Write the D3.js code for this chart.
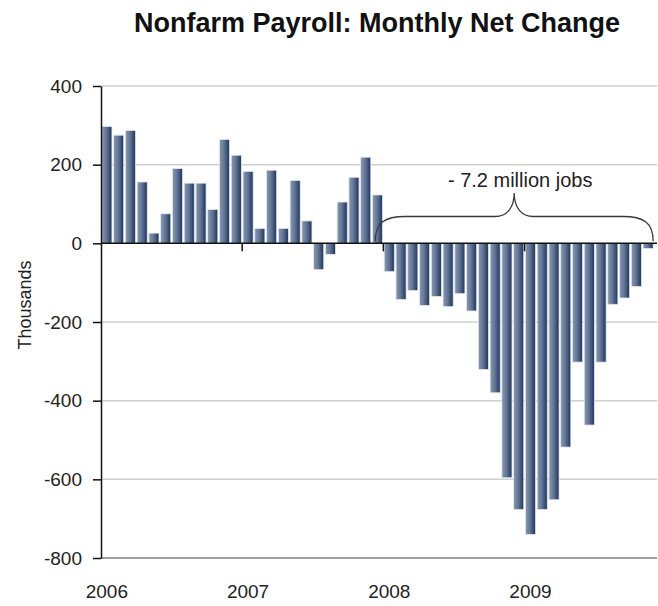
<!DOCTYPE html>
<html>
<head>
<meta charset="utf-8">
<script src="https://cdn.jsdelivr.net/npm/d3@7"></script>
<style>
body { margin: 0; background: #fff; }
text { font-family: "Liberation Sans", Arial, sans-serif; }
</style>
</head>
<body>
<div id="chart"></div>
<script>
// monthly net change in nonfarm payroll, thousands
var years = ["2006", "2007", "2008", "2009"];
var jobs2006 = [297, 275, 287, 156, 26, 75, 190, 153, 153, 86, 264, 224];
var jobs2007 = [183, 38, 186, 38, 160, 57, -67, -28, 105, 168, 219, 123];
var jobs2008 = [-72, -143, -120, -158, -135, -161, -128, -172, -321, -380, -596, -677];
var jobs2009 = [-740, -677, -652, -518, -302, -462, -302, -155, -139, -110, -13];
var yTicks = [400, 200, 0, -200, -400, -600, -800];

var braceLabel = "- 7.2 million jobs";
var braceFrom = "2008-01", braceTo = "2009-11";

var payroll = [];
[jobs2006, jobs2007, jobs2008, jobs2009].forEach(function(arr, i) {
    arr.forEach(function(v, m) {
        payroll.push({month: years[i] + "-" + (m < 9 ? "0" : "") + (m + 1), value: v});
    });
});

var W = 658, H = 606;
var plotL = 101, plotR = 657, plotT = 86, plotB = 558;

var svg = d3.select("#chart")
  .append("svg")
    .attr("width", W)
    .attr("height", H);

var defs = svg.append("defs");
var grad = defs.append("linearGradient")
    .attr("id", "barGrad")
    .attr("x1", "0").attr("x2", "1").attr("y1", "0").attr("y2", "0");
grad.append("stop").attr("offset", "0%").attr("stop-color", "#8798b2");
grad.append("stop").attr("offset", "45%").attr("stop-color", "#637695");
grad.append("stop").attr("offset", "100%").attr("stop-color", "#1f345a");

// title
svg.append("text")
    .attr("x", 377)
    .attr("y", 32)
    .attr("text-anchor", "middle")
    .style("font-size", "27px")
    .style("font-weight", "bold")
    .style("fill", "#111")
    .text("Nonfarm Payroll: Monthly Net Change");

// scales
var x = d3.scaleBand()
    .domain(payroll.map(function(d) { return d.month; }))
    .range([plotL, 654])
    .paddingInner(0.14)
    .paddingOuter(0.07);

var y = d3.scaleLinear()
    .domain([-800, 400])
    .range([plotB, plotT]);

// gridlines
svg.append("g")
    .selectAll("line")
    .data(yTicks.filter(function(d) { return d !== 0; }))
    .enter()
    .append("line")
    .attr("x1", plotL)
    .attr("x2", plotR)
    .attr("y1", function(d) { return y(d); })
    .attr("y2", function(d) { return y(d); })
    .attr("stroke", function(d) { return d === -800 ? "#a0a0a0" : "#cfcfcf"; })
    .attr("stroke-width", function(d) { return d === -800 ? 2 : 1.5; });

// bars
svg.append("g")
    .selectAll("rect")
    .data(payroll)
    .enter()
    .append("rect")
    .attr("x", function(d) { return x(d.month); })
    .attr("y", function(d) { return y(Math.max(0, d.value)); })
    .attr("width", x.bandwidth())
    .attr("height", function(d) { return Math.abs(y(d.value) - y(0)); })
    .attr("fill", "url(#barGrad)")
    .attr("stroke", "#e3e8ee")
    .attr("stroke-width", 0.8);

// y axis, plain hyphen for negatives
var yAxis = svg.append("g")
    .attr("transform", "translate(" + plotL + ",0)")
    .call(d3.axisLeft(y)
        .tickValues(yTicks)
        .tickFormat(function(d) { return String(d); })
        .tickSize(8).tickSizeOuter(0).tickPadding(11));
yAxis.select(".domain").attr("stroke", "#111").attr("stroke-width", 1.5);
yAxis.selectAll(".tick line").attr("stroke", "#111").attr("stroke-width", 1.5);
yAxis.selectAll(".tick text")
    .style("font-size", "19px")
    .style("font-family", "'Liberation Sans', Arial, sans-serif")
    .style("fill", "#222");

// zero line
svg.append("line")
    .attr("x1", plotL)
    .attr("x2", plotR)
    .attr("y1", y(0))
    .attr("y2", y(0))
    .attr("stroke", "#111")
    .attr("stroke-width", 1.5);

// year ticks at boundaries, labels under january bar
var gap = x.step() * x.paddingInner() / 2;
svg.append("g")
    .selectAll("line")
    .data(years.slice(1))
    .enter()
    .append("line")
    .attr("x1", function(d) { return x(d + "-01") - gap; })
    .attr("x2", function(d) { return x(d + "-01") - gap; })
    .attr("y1", y(0))
    .attr("y2", y(0) + 8)
    .attr("stroke", "#111")
    .attr("stroke-width", 1.5);

svg.append("g")
    .selectAll("text")
    .data(years)
    .enter()
    .append("text")
    .attr("x", function(d) { return x(d + "-01") + x.bandwidth() / 2; })
    .attr("y", 598)
    .attr("text-anchor", "middle")
    .style("font-size", "19px")
    .style("fill", "#222")
    .text(function(d) { return d; });

// y label
svg.append("text")
    .attr("transform", "translate(31," + 305 + ") rotate(-90)")
    .attr("text-anchor", "middle")
    .style("font-size", "18px")
    .style("fill", "#222")
    .text("Thousands");

// brace over the job losses
var bL = x(braceFrom) - 9,
    bR = x(braceTo) + x.bandwidth(),
    bM = (bL + bR) / 2,
    bY0 = y(0) - 2,
    bH = 216.5,
    bTip = 193;
var bracePath = "M" + bL + "," + bY0 +
    " C" + bL + "," + (bH + 6) + " " + (bL + 10) + "," + bH + " " + (bL + 30) + "," + bH +
    " L" + (bM - 19) + "," + bH +
    " C" + (bM - 8) + "," + bH + " " + bM + "," + (bH - 8) + " " + bM + "," + bTip +
    " C" + bM + "," + (bH - 8) + " " + (bM + 8) + "," + bH + " " + (bM + 19) + "," + bH +
    " L" + (bR - 30) + "," + bH +
    " C" + (bR - 10) + "," + bH + " " + bR + "," + (bH + 6) + " " + bR + "," + bY0;
svg.append("path")
    .attr("d", bracePath)
    .attr("fill", "none")
    .attr("stroke", "#3a3a3a")
    .attr("stroke-width", 1.3);

svg.append("text")
    .attr("x", bM + 6)
    .attr("y", 187)
    .attr("text-anchor", "middle")
    .style("font-size", "20px")
    .style("fill", "#222")
    .text(braceLabel);
</script>
</body>
</html>
